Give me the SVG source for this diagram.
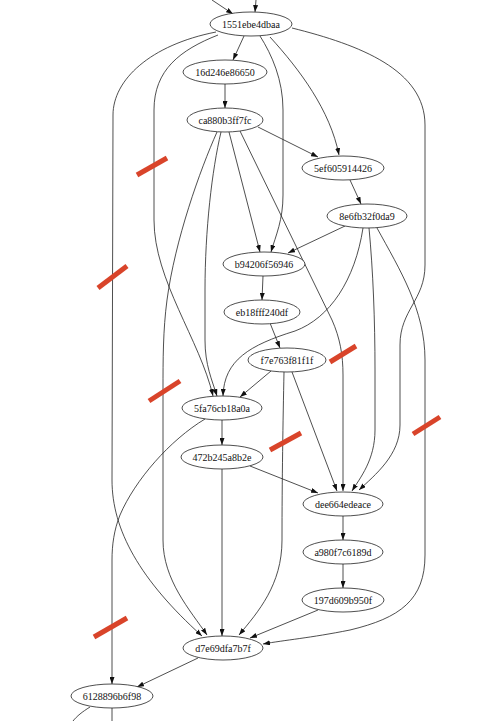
<svg xmlns="http://www.w3.org/2000/svg" width="487" height="721" viewBox="0 0 487 721">
<style>
.n ellipse{fill:#fff;stroke:#222;stroke-width:0.8}
.n text{font-family:"Liberation Serif","Times New Roman",serif;font-size:10px;fill:#111;text-anchor:middle;dominant-baseline:central}
#edges path{fill:none;stroke:#222;stroke-width:0.8}
#edges path.a{marker-end:url(#ah)}
#marks line{stroke:#d9442a;stroke-width:5}
</style>
<defs>
<marker id="ah" viewBox="0 0 7 5" refX="7" refY="2.5" markerWidth="7" markerHeight="5" markerUnits="userSpaceOnUse" orient="auto">
<path d="M0,0 L7,2.5 L0,5 z" fill="#111"/>
</marker>
</defs>
<rect width="487" height="721" fill="#fff"/>
<g id="edges">
<path class="a" d="M212,0 L233,14"/>
<path class="a" d="M256,0 L255,12"/>
<path class="a" d="M244,36 L233,60"/>
<path class="a" d="M216,32 C150,45 113,80 113,115 L112,480 C112,530 140,580 202,636"/>
<path class="a" d="M218,35 C180,50 154,70 154,110 L154,220 C154,280 200,340 213,396"/>
<path class="a" d="M260,36 C272,55 283,80 283,110 L283,195 C283,220 276,235 271,252"/>
<path class="a" d="M270,37 C300,70 330,110 339,155"/>
<path class="a" d="M292,28 C360,45 425,70 425,125 L425,265 C425,300 400,310 400,345 L400,425 C400,455 375,475 359,490"/>
<path class="a" d="M225,84 L225,108"/>
<path class="a" d="M258,127 L318,157"/>
<path class="a" d="M229,132 L260,252"/>
<path class="a" d="M240,131 L332,320 C340,338 343,355 343,375 L343,491"/>
<path class="a" d="M221,132 C212,170 205,230 205,290 L205,340 C205,365 212,380 217,396"/>
<path class="a" d="M217,132 C200,170 175,240 167,300 C163,330 163,360 163,390 L163,540 C163,580 190,610 207,635"/>
<path class="a" d="M350,180 L361,204"/>
<path class="a" d="M345,226 L288,253"/>
<path class="a" d="M363,228 C355,280 330,318 295,331 C250,345 224,360 223,396"/>
<path class="a" d="M369,228 C373,270 375,320 375,370 L375,430 C375,460 360,478 352,491"/>
<path class="a" d="M377,228 C400,270 425,310 425,360 L425,555 C425,600 400,618 350,630 C310,638 285,640 263,644"/>
<path class="a" d="M263,276 L262,300"/>
<path class="a" d="M270,323 L280,348"/>
<path class="a" d="M271,371 L240,397"/>
<path class="a" d="M292,372 L337,491"/>
<path class="a" d="M284,372 C283,420 282,480 282,540 C282,585 258,612 239,635"/>
<path class="a" d="M222,420 L222,445"/>
<path class="a" d="M205,419 C170,440 135,480 120,515 C114,530 112,545 112,560 L112,684"/>
<path class="a" d="M250,466 L318,493"/>
<path class="a" d="M222,469 L222,636"/>
<path class="a" d="M343,516 L343,540"/>
<path class="a" d="M343,564 L343,588"/>
<path class="a" d="M318,610 L250,638"/>
<path class="a" d="M198,658 L137,687"/>
<path d="M90,707 C82,712 77,716 73,721"/>
<path d="M112,708 L112,721"/>
</g>
<g id="n1551ebe4dbaa" class="n"><ellipse cx="251" cy="24" rx="41" ry="12"/><text x="251" y="24">1551ebe4dbaa</text></g>
<g id="n16d246e86650" class="n"><ellipse cx="225" cy="72" rx="42" ry="12"/><text x="225" y="72">16d246e86650</text></g>
<g id="nca880b3ff7fc" class="n"><ellipse cx="225" cy="120" rx="38" ry="12"/><text x="225" y="120">ca880b3ff7fc</text></g>
<g id="n5ef605914426" class="n"><ellipse cx="343" cy="168" rx="41" ry="12"/><text x="343" y="168">5ef605914426</text></g>
<g id="n8e6fb32f0da9" class="n"><ellipse cx="367" cy="216" rx="40" ry="12"/><text x="367" y="216">8e6fb32f0da9</text></g>
<g id="nb94206f56946" class="n"><ellipse cx="264" cy="264" rx="41" ry="12"/><text x="264" y="264">b94206f56946</text></g>
<g id="neb18fff240df" class="n"><ellipse cx="262" cy="312" rx="38" ry="12"/><text x="262" y="312">eb18fff240df</text></g>
<g id="nf7e763f81f1f" class="n"><ellipse cx="287" cy="360" rx="39" ry="12"/><text x="287" y="360">f7e763f81f1f</text></g>
<g id="n5fa76cb18a0a" class="n"><ellipse cx="222" cy="408" rx="40" ry="12"/><text x="222" y="408">5fa76cb18a0a</text></g>
<g id="n472b245a8b2e" class="n"><ellipse cx="222" cy="457" rx="41" ry="12"/><text x="222" y="457">472b245a8b2e</text></g>
<g id="ndee664edeace" class="n"><ellipse cx="343" cy="504" rx="40" ry="12"/><text x="343" y="504">dee664edeace</text></g>
<g id="na980f7c6189d" class="n"><ellipse cx="343" cy="552" rx="40" ry="12"/><text x="343" y="552">a980f7c6189d</text></g>
<g id="n197d609b950f" class="n"><ellipse cx="343" cy="600" rx="41" ry="12"/><text x="343" y="600">197d609b950f</text></g>
<g id="nd7e69dfa7b7f" class="n"><ellipse cx="223" cy="648" rx="40" ry="12"/><text x="223" y="648">d7e69dfa7b7f</text></g>
<g id="n6128896b6f98" class="n"><ellipse cx="112" cy="696" rx="41" ry="12"/><text x="112" y="696">6128896b6f98</text></g>
<g id="marks">
<line x1="137" y1="175" x2="167" y2="158"/>
<line x1="98" y1="288" x2="127" y2="266"/>
<line x1="149" y1="401" x2="180" y2="381"/>
<line x1="330" y1="362" x2="356" y2="346"/>
<line x1="270" y1="450" x2="301" y2="433"/>
<line x1="413" y1="434" x2="440" y2="417"/>
<line x1="94" y1="637" x2="127" y2="618"/>
</g>
</svg>
